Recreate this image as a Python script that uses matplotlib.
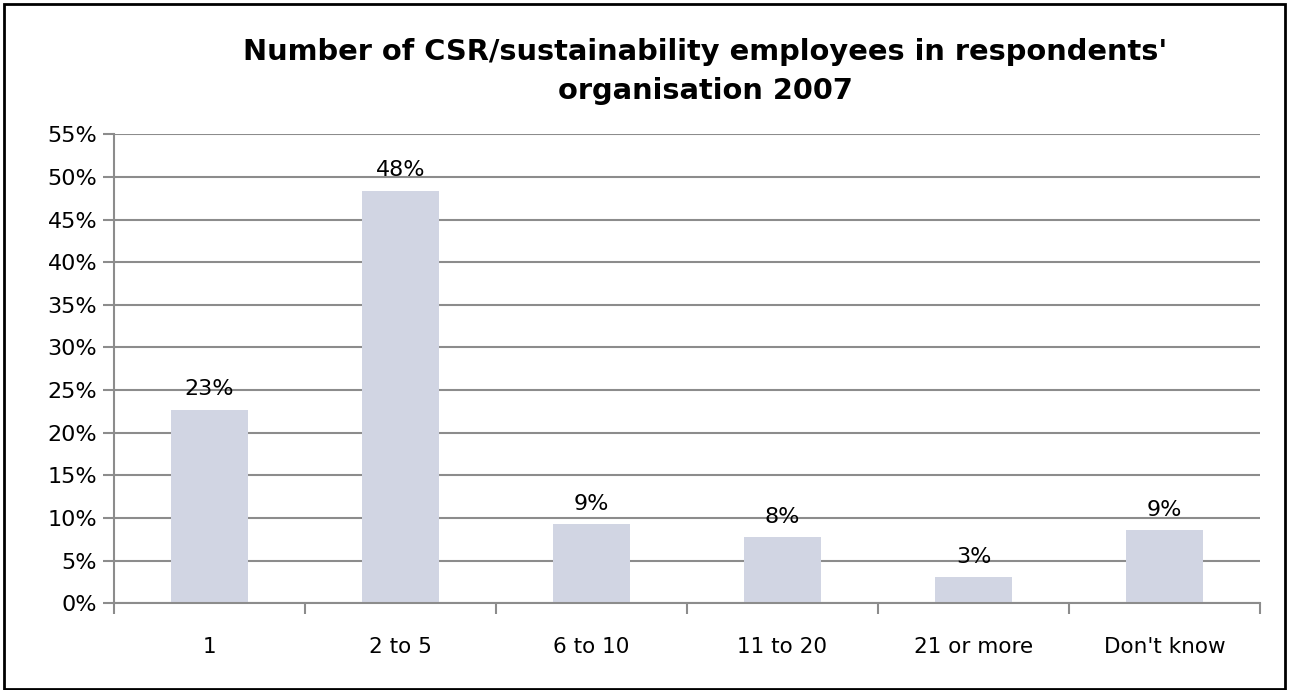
import numpy as np
import matplotlib.pyplot as plt
from matplotlib.patches import Rectangle

categories = ["1", "2 to 5", "6 to 10", "11 to 20", "21 or more", "Don't know"]
shares = [22.7, 48.4, 9.3, 7.8, 3.1, 8.6]
y_ticks = list(range(0, 60, 5))

plt.rcParams['font.family'] = ['DejaVu Sans']

fig = plt.figure(figsize=(12.89, 6.90), dpi=100)
ax = fig.add_axes([0.0884, 0.1257, 0.8891, 0.6797])

x = np.arange(len(categories))
ax.bar(x, shares, width=0.4, color='#d1d5e3', zorder=3)

for xi, v in zip(x, shares):
    ax.text(xi, v + 1.2, f"{v:.0f}%", ha='center', va='bottom', fontsize=16)

ax.set_xlim(-0.5, len(categories) - 0.5)
ax.set_ylim(0, 55)
ax.set_yticks(y_ticks)
ax.set_yticklabels([f"{t}%" for t in y_ticks], fontsize=16)
ax.yaxis.grid(True, color='#8c8c8c', linewidth=1.5, zorder=0)

ax.set_xticks(x)
ax.set_xticklabels(categories, fontsize=15.5)
ax.tick_params(axis='x', length=0, pad=24)
ax.set_xticks(np.arange(-0.5, len(categories)), minor=True)
ax.tick_params(axis='x', which='minor', length=8, width=1.5, color='#8c8c8c')
ax.tick_params(axis='y', length=8, width=1.5, color='#8c8c8c', pad=4)

for side in ['top', 'right']:
    ax.spines[side].set_visible(False)
for side in ['left', 'bottom']:
    ax.spines[side].set_color('#8c8c8c')
    ax.spines[side].set_linewidth(1.5)
    ax.spines[side].set_zorder(4)

fig.text(0.547, 0.896, "Number of CSR/sustainability employees in respondents'\norganisation 2007",
         ha='center', va='center', fontsize=20.8, fontweight='bold', linespacing=1.5)

fig.patches.append(Rectangle((0.003, 0.002), 0.994, 0.992, transform=fig.transFigure,
                             fill=False, edgecolor='black', linewidth=2))

fig.savefig('out.png', dpi=100)
